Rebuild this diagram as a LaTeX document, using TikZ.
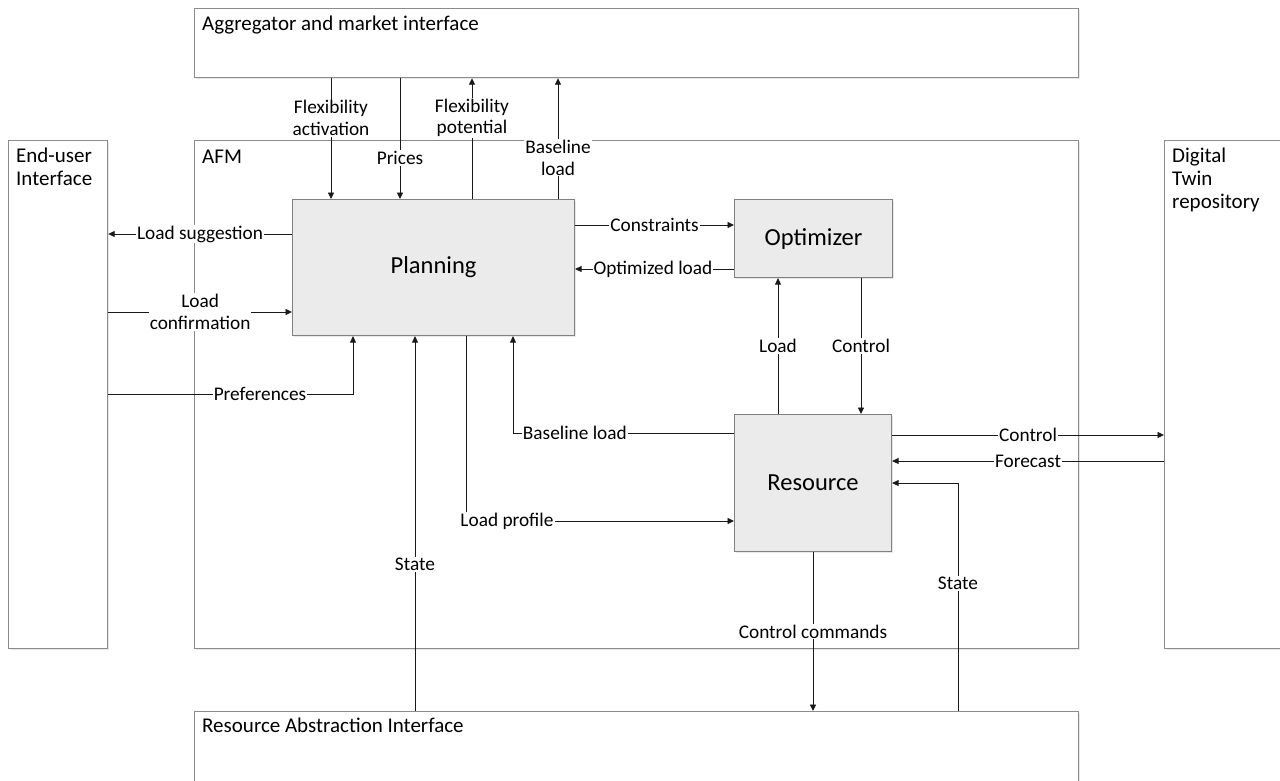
\documentclass[tikz,border=0pt]{standalone}
\usepackage{fontspec}
\setmainfont{Carlito}
\usetikzlibrary{arrows.meta,shadows}

\begin{document}
\begin{tikzpicture}[x=1pt,y=-1pt,
  frame/.style={draw=black!45, line width=1.2pt, anchor=north west, inner sep=0pt,
    drop shadow={shadow xshift=1pt, shadow yshift=-1.5pt, opacity=0.18}, fill=white},
  blk/.style={draw=black!50, fill=black!8, line width=1.1pt, anchor=north west, inner sep=0pt,
    font=\fontsize{24.5}{28}\selectfont,
    drop shadow={shadow xshift=1pt, shadow yshift=-1.5pt, opacity=0.18}},
  flow/.style={draw=black!90, line width=0.9pt, -{Triangle[length=6.5pt,width=6pt]}},
  lbl/.style={fill=white, inner sep=1pt, font=\fontsize{19.3}{21.5}\selectfont, align=center},
  title/.style={anchor=north west, inner sep=0pt, align=left, font=\fontsize{21}{23}\selectfont},
]
\clip (0,0) rectangle (1280,780);
\fill[white] (0,0) rectangle (1280,780);

% outer frames
\node[frame, minimum width=884pt, minimum height=69pt]  (agg) at (194,8)    {};
\node[frame, minimum width=884pt, minimum height=508pt] (afm) at (194,140)  {};
\node[frame, minimum width=99pt,  minimum height=508pt] (eui) at (8,140)    {};
\node[frame, minimum width=140pt, minimum height=508pt] (dt)  at (1164,140) {};
\node[frame, minimum width=884pt, minimum height=120pt] (rai) at (194,711)  {};

% frame titles
\node[title] (aggT) at (202,16)   {Aggregator and market interface};
\node[title] (afmT) at (202,149.5){AFM};
\node[title] (euiT) at (16,148)   {End-user\\Interface};
\node[title] (dtT)  at (1172,148) {Digital\\Twin\\repository};
\node[title] (raiT) at (202,718)  {Resource Abstraction Interface};

% functional blocks
\node[blk, minimum width=282pt, minimum height=136pt] (plan) at (292,199) {};
\node[font=\fontsize{24.5}{28}\selectfont] (planT) at (plan.center) {Planning};
\node[blk, minimum width=158pt, minimum height=78pt]  (opt)  at (734,199) {};
\node[font=\fontsize{24.5}{28}\selectfont] (optT) at (opt.center) {Optimizer};
\node[blk, minimum width=157pt, minimum height=137pt] (res)  at (734,414) {};
\node[font=\fontsize{24.5}{28}\selectfont] (resT) at (res.center) {Resource};

% connector columns and rows
\coordinate (xfa) at (331,0);
\coordinate (xpr) at (400,0);
\coordinate (xfp) at (472,0);
\coordinate (xbu) at (558,0);
\coordinate (yls) at (0,234);
\coordinate (ylc) at (0,312);
\coordinate (ypf) at (0,394);
\coordinate (xpf) at (353,0);
\coordinate (ycn) at (0,225);
\coordinate (yol) at (0,269);
\coordinate (xld) at (778,0);
\coordinate (xct) at (861,0);
\coordinate (ybl) at (0,433);
\coordinate (xbl) at (513,0);
\coordinate (xlp) at (466,0);
\coordinate (ylp) at (0,521);
\coordinate (yc2) at (0,435);
\coordinate (yfc) at (0,461);
\coordinate (xsr) at (958,0);
\coordinate (ysr) at (0,483);
\coordinate (xcc) at (813,0);
\coordinate (xsl) at (415,0);

% aggregator and market interface <-> planning
\draw[flow] (agg.south -| xfa) -- node[lbl, pos=0.33] {Flexibility\\activation} (plan.north -| xfa);
\draw[flow] (agg.south -| xpr) -- node[lbl, pos=0.66] {Prices} (plan.north -| xpr);
\draw[flow] (plan.north -| xfp) -- node[lbl, pos=0.67] {Flexibility\\potential} (agg.south -| xfp);
\draw[flow] (plan.north -| xbu) -- node[lbl, pos=0.34] {Baseline\\load} (agg.south -| xbu);

% end-user interface <-> planning
\draw[flow] (plan.west |- yls) -- node[lbl] {Load suggestion} (eui.east |- yls);
\draw[flow] (eui.east |- ylc) -- node[lbl] {Load\\confirmation} (plan.west |- ylc);
\draw[flow] (eui.east |- ypf) -- node[lbl, pos=0.62] {Preferences} (xpf |- ypf) -- (plan.south -| xpf);

% planning <-> optimizer
\draw[flow] (plan.east |- ycn) -- node[lbl] {Constraints} (opt.west |- ycn);
\draw[flow] (opt.west |- yol) -- node[lbl, pos=0.51] {Optimized load} (plan.east |- yol);

% optimizer <-> resource
\draw[flow] (res.north -| xld) -- node[lbl] {Load} (opt.south -| xld);
\draw[flow] (opt.south -| xct) -- node[lbl] {Control} (res.north -| xct);

% planning <-> resource
\draw[flow] (res.west |- ybl) -- node[lbl, pos=0.72] {Baseline load} (xbl |- ybl) -- (plan.south -| xbl);
\draw[flow] (plan.south -| xlp) -- (xlp |- ylp) -- node[lbl, pos=0.153] {Load profile} (res.west |- ylp);

% resource <-> digital twin repository
\draw[flow] (res.east |- yc2) -- node[lbl] {Control} (dt.west |- yc2);
\draw[flow] (dt.west |- yfc) -- node[lbl] {Forecast} (res.east |- yfc);

% resource abstraction interface
\draw[flow] (rai.north -| xsr) -- node[lbl, pos=0.56] {State} (xsr |- ysr) -- (res.east |- ysr);
\draw[flow] (res.south -| xcc) -- node[lbl] {Control commands} (rai.north -| xcc);
\draw[flow] (rai.north -| xsl) -- node[lbl, pos=0.39] {State} (plan.south -| xsl);
\end{tikzpicture}
\end{document}
